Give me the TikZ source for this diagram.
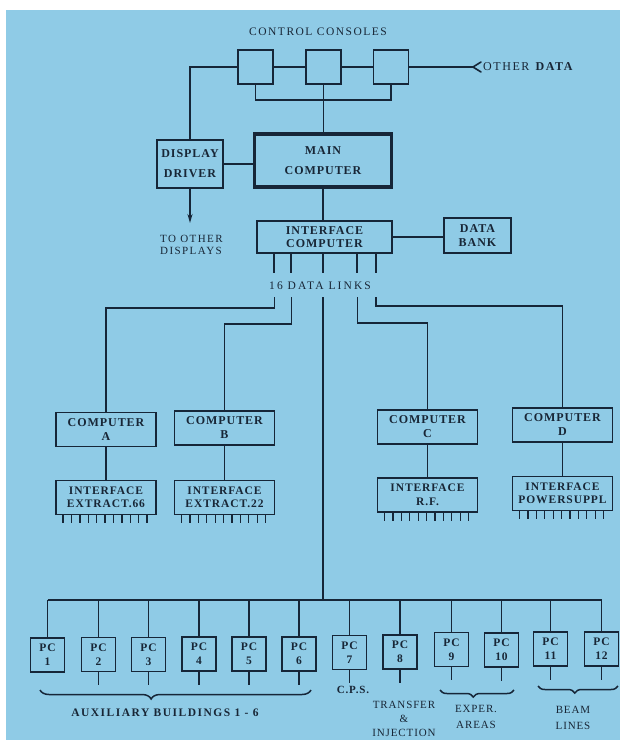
\documentclass[tikz,border=0pt]{standalone}
\usepackage{fontspec}
\setmainfont{Liberation Serif}
\newfontfamily\lsfont[LetterSpace=8]{Liberation Serif}
\newfontfamily\lswide[LetterSpace=13]{Liberation Serif}
\newfontfamily\lsxwide[LetterSpace=18]{Liberation Serif}
\usetikzlibrary{decorations.pathreplacing,arrows.meta,calc}
\definecolor{bgblue}{RGB}{143,203,230}
\definecolor{ink}{RGB}{22,38,56}
\definecolor{txt}{RGB}{24,38,54}
\tikzset{
  line/.style={draw=ink, line width=1.6pt},
  box/.style={draw=ink, line width=1.8pt, inner sep=0pt, align=center, text=txt,
    font=\lsfont\bfseries\fontsize{12}{13.5}\selectfont},
  bigbox/.style={box, line width=3.6pt, font=\lsfont\bfseries\fontsize{12}{20}\selectfont},
  ddbox/.style={box, font=\lsfont\bfseries\fontsize{12}{20}\selectfont},
  console/.style={draw=ink, line width=1.8pt, minimum width=35pt, minimum height=34pt, inner sep=0pt},
  compbox/.style={box, minimum width=100pt, minimum height=34pt, font=\lsfont\bfseries\fontsize{12}{14}\selectfont},
  ifbox/.style={box, minimum width=100pt, minimum height=34pt, font=\lsfont\bfseries\fontsize{11.5}{13.5}\selectfont},
  pcbox/.style={box, minimum width=34pt, minimum height=34pt, font=\lsfont\bfseries\fontsize{11.5}{14}\selectfont},
  label/.style={inner sep=0pt, text=txt, align=center, font=\lsfont\fontsize{11.5}{13}\selectfont},
  pin/.style={draw=ink, line width=1.3pt},
  bracestyle/.style={draw=ink, line width=1.5pt, decorate},
}
\begin{document}
\begin{tikzpicture}[x=1pt,y=-1pt]
\useasboundingbox (0,0) rectangle (626,740);
\fill[white] (0,0) rectangle (626,740);
\fill[bgblue] (6,10) rectangle (620,740);

% control consoles
\node[label, font=\lswide\fontsize{11.5}{13}\selectfont] (cc) at (318,32) {CONTROL CONSOLES};
\node[console] (c1) at (255.5,67) {};
\node[console] (c2) at (323.5,67) {};
\node[console] (c3) at (391,67) {};
\node[label, anchor=west, font=\lswide\fontsize{12}{13}\selectfont] (od) at (483,67) {OTHER \textbf{DATA}};
\coordinate (odtip) at ($(od.west)+(-10,0)$);

% main blocks
\node[bigbox, minimum width=137pt, minimum height=53pt] (main) at (323,160.5) {MAIN\\COMPUTER};
\node[ddbox, minimum width=66pt, minimum height=48pt] (dd) at (190,164) {DISPLAY\\DRIVER};
\coordinate (ddarrow) at (190,223);
\node[label, anchor=north west, align=left, font=\lswide\fontsize{11}{12.5}\selectfont] (tod) at (160,235) {TO OTHER\\DISPLAYS};
\node[box, minimum width=135pt, minimum height=32pt] (ic) at (324.5,237) {INTERFACE\\COMPUTER};
\node[box, minimum width=67pt, minimum height=35pt] (db) at (477.5,235.5) {DATA\\BANK};
\node[label, font=\lsxwide\fontsize{11.5}{13}\selectfont] (dl) at (320,285.5) {16 DATA LINKS};

% satellite computers
\node[compbox] (ca) at (106,429.5) {COMPUTER\\A};
\node[compbox] (cb) at (224.5,428) {COMPUTER\\B};
\node[compbox] (ccc) at (427.5,427) {COMPUTER\\C};
\node[compbox] (cd) at (562.5,425) {COMPUTER\\D};
\node[ifbox] (ia) at (106,497.5) {INTERFACE\\EXTRACT.66};
\node[ifbox] (ib) at (224.5,497.5) {INTERFACE\\EXTRACT.22};
\node[ifbox] (irf) at (427.5,495) {INTERFACE\\R.F.};
\node[ifbox] (ips) at (562.5,493.5) {INTERFACE\\[-1pt]POWERSUPPL};

% PCs
\foreach \i/\x/\y in {1/47.5/655, 2/98.5/654.5, 3/148.5/654.5, 4/199/654, 5/249/654, 6/299/654,
                      7/349.5/652.5, 8/400/652, 9/451.5/649.5, 10/501.5/650, 11/550.5/649, 12/601.5/649}
  \node[pcbox] (pc\i) at (\x,\y) {PC\\\i};

% connectors: consoles
\draw[line] (c1.west) -| (dd.north);
\draw[line] (c1.east) -- (c2.west);
\draw[line] (c2.east) -- (c3.west);
\draw[line] (c3.east) -- (odtip);
\draw[line, line cap=round] ($(odtip)+(8,-5)$) -- (odtip) -- ($(odtip)+(8,5)$);
\draw[line] (c1.south) -- (c1.south |- 0,100) -- (c3.south |- 0,100) -- (c3.south);
\draw[line] (c2.south) -- (c2.south |- main.north);
\draw[line] (dd.east) -- (dd.east -| main.west);
\draw[line, -{Stealth[length=9pt,width=5pt]}] (dd.south) -- (ddarrow);
\draw[line] (main.south -| 323,0) -- (ic.north -| 323,0);
\draw[line] (ic.east) -- (ic.east -| db.west);

% data links
\foreach \x in {274,291,323,357,376}
  \draw[line] (ic.south -| \x,0) -- (\x,273);
\draw[line] (274.5,297) -- (274.5,308) -- (ca.north |- 0,308) -- (ca.north);
\draw[line] (291.5,297) -- (291.5,324) -- (cb.north |- 0,324) -- (cb.north);
\draw[line] (357.5,297) -- (357.5,323) -- (ccc.north |- 0,323) -- (ccc.north);
\draw[line] (376,297) -- (376,306) -- (cd.north |- 0,306) -- (cd.north);
\draw[line] (ca.south) -- (ia.north);
\draw[line] (cb.south) -- (ib.north);
\draw[line] (ccc.south) -- (irf.north);
\draw[line] (cd.south) -- (ips.north);

% pins
\foreach \n in {ia,ib,irf,ips}
  \foreach \k in {0,...,10}
    \draw[pin] ($(\n.south west)+(8+\k*8.4,0)$) -- ++(0,8);

% trunk and bus
\draw[line] (323,297) -- (323,600);
\draw[line] (pc1.north |- 0,600) -- (pc12.north |- 0,600);
\foreach \i in {1,...,12}
  \draw[line] (pc\i.north |- 0,600) -- (pc\i.north);
\foreach \i in {2,...,12}
  \draw[line] (pc\i.south) -- ++(0,13);

% braces
\draw[bracestyle, decoration={brace, mirror, amplitude=9pt, aspect=0.41}] (40,690) -- (311,690);
\draw[bracestyle, decoration={brace, mirror, amplitude=7pt, aspect=0.45}] (440,690) -- (514,690);
\draw[bracestyle, decoration={brace, mirror, amplitude=7pt, aspect=0.46}] (538,686) -- (618,686);

% bottom labels
\node[label, font=\lswide\bfseries\fontsize{11.5}{13}\selectfont] (aux) at (165,713) {AUXILIARY BUILDINGS 1 - 6};
\node[label, font=\lsfont\bfseries\fontsize{11}{13}\selectfont] (cps) at (353,690) {C.P.S.};
\node[label, font=\lsfont\fontsize{11}{14}\selectfont] (tri) at (404,719) {TRANSFER\\\&\\INJECTION};
\node[label, font=\lsfont\fontsize{11}{16}\selectfont] (exp) at (476,717) {EXPER.\\AREAS};
\node[label, font=\lsfont\fontsize{11}{16}\selectfont] (bl) at (573,717.5) {BEAM\\LINES};
\end{tikzpicture}
\end{document}
